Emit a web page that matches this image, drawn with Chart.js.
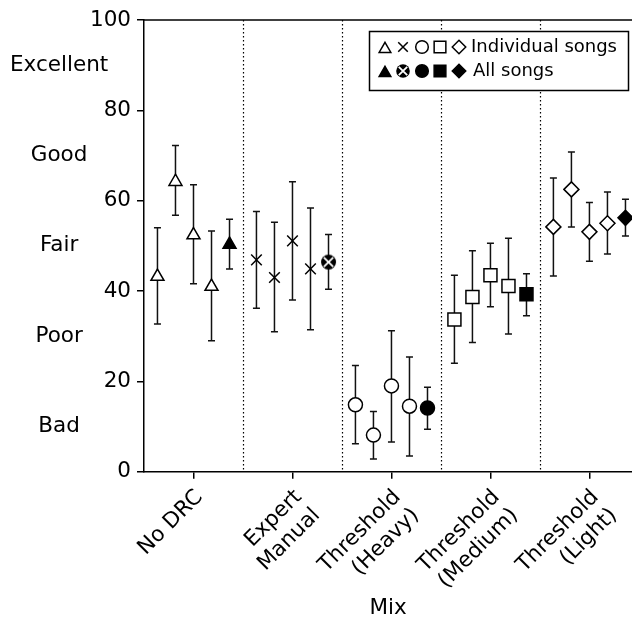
<!DOCTYPE html>
<html>
<head>
<meta charset="utf-8">
<script src="https://cdn.jsdelivr.net/npm/chart.js"></script>
<style>
  html, body { margin: 0; padding: 0; overflow: hidden; background: #fff; }
  #wrap { width: 632px; height: 619px; }
</style>
</head>
<body>
<div id="wrap"><canvas id="chart" width="632" height="619"></canvas></div>
<script>
// categories (x axis)
const mixes = ["No DRC", ["Expert", "Manual"], ["Threshold", "(Heavy)"], ["Threshold", "(Medium)"], ["Threshold", "(Light)"]];
// x offset of the 4 songs + "all songs" inside a mix
const songOffsets = [-0.364, -0.182, 0, 0.182, 0.364];
const qualityTicks = [10, 30, 50, 70, 90];
const qualityLabels = ["Bad", "Poor", "Fair", "Good", "Excellent"];
const separators = [0.5, 1.5, 2.5, 3.5];

// mean score and error bar ends, per mix (song 1..4, then all songs)
const noDrcMean = [43.2, 64.2, 52.4, 41.0, 50.3];
const noDrcLow = [32.7, 56.8, 41.6, 29.0, 44.9];
const noDrcHigh = [54.0, 72.2, 63.5, 53.3, 55.9];

const expertMean = [46.9, 43.0, 51.1, 44.9, 46.4];
const expertLow = [36.2, 31.0, 38.0, 31.4, 40.4];
const expertHigh = [57.6, 55.2, 64.2, 58.4, 52.5];

const heavyMean = [14.8, 8.1, 19.0, 14.5, 14.1];
const heavyLow = [6.2, 2.8, 6.6, 3.5, 9.4];
const heavyHigh = [23.5, 13.3, 31.2, 25.4, 18.7];

const mediumMean = [33.7, 38.7, 43.5, 41.1, 39.3];
const mediumLow = [24.0, 28.6, 36.5, 30.5, 34.5];
const mediumHigh = [43.5, 48.9, 50.6, 51.7, 43.8];

const lightMean = [54.2, 62.5, 53.1, 55.0, 56.2];
const lightLow = [43.3, 54.2, 46.6, 48.2, 52.2];
const lightHigh = [65.0, 70.8, 59.6, 61.9, 60.3];

const FONT = "'DejaVu Sans', sans-serif";

// black disc with a white x (the "all songs" marker of Expert Manual)
function crossDisc(r) {
    const c = document.createElement("canvas");
    const s = Math.ceil(r * 2 + 2);
    c.width = s; c.height = s;
    const g = c.getContext("2d");
    g.fillStyle = "#000";
    g.beginPath(); g.arc(s / 2, s / 2, r, 0, Math.PI * 2); g.fill();
    g.strokeStyle = "#fff"; g.lineWidth = 1.8;
    const d = r * 0.62;
    g.beginPath();
    g.moveTo(s / 2 - d, s / 2 - d); g.lineTo(s / 2 + d, s / 2 + d);
    g.moveTo(s / 2 + d, s / 2 - d); g.lineTo(s / 2 - d, s / 2 + d);
    g.stroke();
    return c;
}
const crossImg = crossDisc(7.5);
const crossImgSmall = crossDisc(6.8);

const groups = [
    { mean: noDrcMean, low: noDrcLow, high: noDrcHigh, style: "triangle", r: 7.5 },
    { mean: expertMean, low: expertLow, high: expertHigh, style: "crossRot", r: 7.5 },
    { mean: heavyMean, low: heavyLow, high: heavyHigh, style: "circle", r: 7 },
    { mean: mediumMean, low: mediumLow, high: mediumHigh, style: "rect", r: 9.2 },
    { mean: lightMean, low: lightLow, high: lightHigh, style: "rectRot", r: 7.5 },
];

const datasets = groups.map((g, i) => ({
    label: typeof mixes[i] === "string" ? mixes[i] : mixes[i].join(" "),
    data: g.mean.map((m, j) => ({ x: i + songOffsets[j], y: m, lo: g.low[j], hi: g.high[j] })),
    pointStyle: ctx => (i === 1 && ctx.dataIndex === 4) ? crossImg : g.style,
    pointRadius: g.r,
    pointBorderWidth: 1.5,
    pointBorderColor: "#000",
    pointBackgroundColor: g.mean.map((_, j) => j === 4 ? "#000" : "#fff"),
    showLine: false,
}));

const decor = {
    id: "decor",
    beforeDatasetsDraw(chart) {
        const { ctx, chartArea: a, scales: { x, y } } = chart;
        ctx.save();
        // dotted separators between mixes
        ctx.strokeStyle = "#000";
        ctx.lineWidth = 1.2;
        ctx.setLineDash([1.5, 2.5]);
        separators.forEach(v => {
            const px = Math.round(x.getPixelForValue(v)) + 0.5;
            ctx.beginPath(); ctx.moveTo(px, a.top); ctx.lineTo(px, a.bottom); ctx.stroke();
        });
        ctx.setLineDash([]);
        // top spine
        ctx.lineWidth = 1.5;
        ctx.beginPath();
        ctx.moveTo(a.left, a.top); ctx.lineTo(a.right, a.top);
        ctx.stroke();
        // error bars
        ctx.strokeStyle = "#111";
        chart.data.datasets.forEach(ds => {
            ds.data.forEach(p => {
                const px = x.getPixelForValue(p.x);
                const t = y.getPixelForValue(p.hi), b = y.getPixelForValue(p.lo);
                ctx.beginPath();
                ctx.moveTo(px, t); ctx.lineTo(px, b);
                ctx.moveTo(px - 3.5, t); ctx.lineTo(px + 3.5, t);
                ctx.moveTo(px - 3.5, b); ctx.lineTo(px + 3.5, b);
                ctx.stroke();
            });
        });
        ctx.restore();
    },
    afterDraw(chart) {
        const { ctx, chartArea: a } = chart;
        const bx = a.right - 263, by = a.top + 11, bw = 259, bh = 59;
        ctx.save();
        ctx.fillStyle = "#fff";
        ctx.fillRect(bx, by, bw, bh);
        ctx.strokeStyle = "#000"; ctx.lineWidth = 1.5;
        ctx.strokeRect(bx + 0.5, by + 0.5, bw, bh);
        const xs = [16, 34, 53, 71, 90];
        const rows = [by + 16, by + 40];
        groups.forEach((g, i) => {
            [0, 1].forEach(row => {
                const cx = bx + xs[i], cy = rows[row];
                ctx.strokeStyle = "#000";
                ctx.fillStyle = row === 0 ? "#fff" : "#000";
                ctx.lineWidth = 1.5;
                const style = (i === 1 && row === 1) ? crossImgSmall : g.style;
                Chart.helpers.drawPoint(ctx, { pointStyle: style, radius: g.r * 0.9, rotation: 0, borderWidth: 1.5 },
                    cx, cy + (g.style === "triangle" ? 2 : 0));
            });
        });
        ctx.fillStyle = "#000";
        ctx.font = "18px " + FONT;
        ctx.textBaseline = "middle";
        ctx.textAlign = "left";
        ctx.fillText("Individual songs", bx + 102, rows[0]);
        ctx.fillText("All songs", bx + 104, rows[1]);
        ctx.restore();
    }
};

new Chart(document.getElementById("chart"), {
    type: "scatter",
    data: { datasets },
    plugins: [decor],
    options: {
        responsive: false,
        animation: false,
        events: [],
        layout: { autoPadding: false, padding: { top: 20, right: 0, left: 0, bottom: 0 } },
        plugins: { legend: { display: false }, tooltip: { enabled: false } },
        scales: {
            x: {
                type: "linear", position: "bottom", min: -0.5, max: 4.43,
                afterBuildTicks: s => { s.ticks = mixes.map((_, i) => ({ value: i })); },
                afterFit: s => { s.height = 147.3; s.paddingRight = 0; s.paddingLeft = 0; },
                ticks: {
                    callback: (v, i) => mixes[i],
                    autoSkip: false, minRotation: 45, maxRotation: 45,
                    labelOffset: 6,
                    color: "#000", font: { family: FONT, size: 21.5 }, padding: 6
                },
                grid: { drawOnChartArea: false, drawTicks: true, tickLength: 7, color: "#000", lineWidth: 1.5 },
                border: { color: "#000", width: 1.5 },
                title: { display: true, text: "Mix", color: "#000", font: { family: FONT, size: 21.5, lineHeight: 1 }, padding: 0 }
            },
            y: {
                type: "linear", position: "left", min: 0, max: 100, weight: 0,
                afterFit: s => { s.width = 64; },
                ticks: { stepSize: 20, color: "#000", font: { family: FONT, size: 21.5 }, padding: 6 },
                grid: { drawOnChartArea: false, drawTicks: true, tickLength: 7, color: "#000", lineWidth: 1.5 },
                border: { color: "#000", width: 1.5 }
            },
            yQ: {
                type: "linear", position: "left", min: 0, max: 100, weight: 1,
                afterBuildTicks: s => { s.ticks = qualityTicks.map(v => ({ value: v })); },
                afterFit: s => { s.width = 80; },
                ticks: {
                    callback: (v, i) => qualityLabels[i], autoSkip: false,
                    mirror: true, crossAlign: "center", padding: -70,
                    color: "#000", font: { family: FONT, size: 21.5 }
                },
                grid: { display: false },
                border: { display: false }
            }
        }
    }
});
</script>
</body>
</html>
